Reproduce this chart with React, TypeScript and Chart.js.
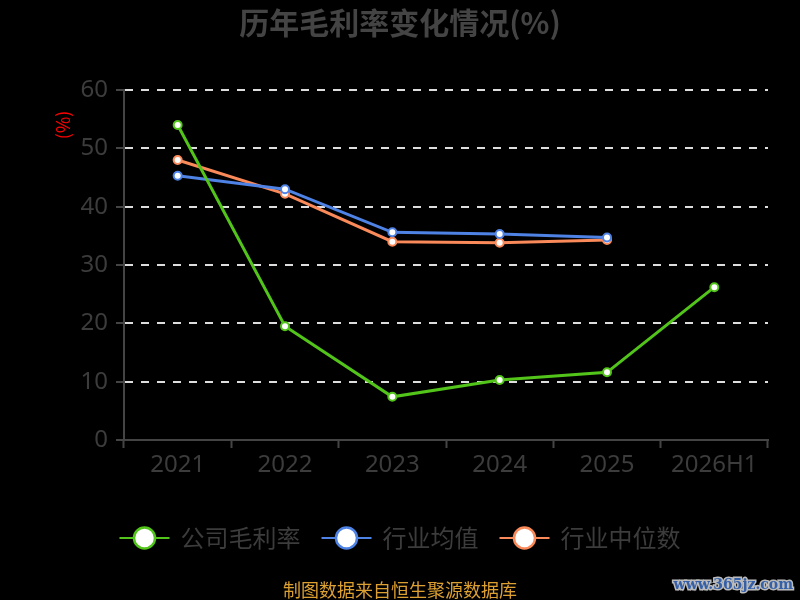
import { useEffect, useRef } from "react";
import { Chart, registerables } from "chart.js";

Chart.register(...registerables);

const categories = ["2021", "2022", "2023", "2024", "2025", "2026H1"];
const companyMargin = [54.0, 19.5, 7.4, 10.3, 11.6, 26.2];
const industryAvg = [45.3, 43.0, 35.6, 35.3, 34.7, null];
const industryMedian = [48.0, 42.2, 34.0, 33.8, 34.3, null];
const seriesNames = ["公司毛利率", "行业均值", "行业中位数"];
const seriesColors = ["#52c41a", "#4e82e4", "#fa8a5a"];
const yTicks = [0, 10, 20, 30, 40, 50, 60];

const TITLE = "历年毛利率变化情况(%)";
const UNIT = "(%)";
const FOOTER = "制图数据来自恒生聚源数据库";
const WATERMARK = "www.365jz.com";

const FONT = '"Noto Sans", "Noto Sans CJK SC", sans-serif';
const CJK = '"Noto Sans CJK SC", "Noto Sans", sans-serif';

// title, unit label, custom legend, footer and watermark
const decorations = {
  id: "decorations",
  afterDraw(chart: Chart) {
    const ctx = chart.ctx;
    ctx.save();

    ctx.fillStyle = "#444";
    ctx.font = `bold 30px ${CJK}`;
    ctx.textAlign = "center";
    ctx.textBaseline = "middle";
    ctx.fillText(TITLE, 400, 23);

    ctx.save();
    ctx.translate(63, 125);
    ctx.rotate(-Math.PI / 2);
    ctx.fillStyle = "#ff0000";
    ctx.font = `18px ${CJK}`;
    ctx.fillText(UNIT, 0, 0);
    ctx.restore();

    // legend: line + hollow circle + label
    ctx.font = `24px ${CJK}`;
    const lineW = 50;
    const gapText = 11;
    const gapItem = 21;
    const widths = seriesNames.map((n) => ctx.measureText(n).width);
    const total =
      widths.reduce((a, w) => a + lineW + gapText + w, 0) + gapItem * (seriesNames.length - 1);
    let x = 400 - total / 2;
    const ly = 538;
    seriesNames.forEach((name, i) => {
      ctx.strokeStyle = seriesColors[i];
      ctx.lineWidth = 2;
      ctx.beginPath();
      ctx.moveTo(x, ly);
      ctx.lineTo(x + lineW, ly);
      ctx.stroke();
      ctx.beginPath();
      ctx.arc(x + lineW / 2, ly, 10.5, 0, Math.PI * 2);
      ctx.fillStyle = "#fff";
      ctx.fill();
      ctx.lineWidth = 2.5;
      ctx.stroke();
      ctx.fillStyle = "#3c3c3c";
      ctx.textAlign = "left";
      ctx.fillText(name, x + lineW + gapText, ly);
      x += lineW + gapText + widths[i] + gapItem;
    });

    ctx.textAlign = "center";
    ctx.font = `18px ${CJK}`;
    ctx.fillStyle = "#dca032";
    ctx.fillText(FOOTER, 400, 590);

    ctx.textAlign = "right";
    ctx.font = 'bold 14px "DejaVu Serif", serif';
    ctx.lineWidth = 3;
    ctx.strokeStyle = "#bbb";
    ctx.strokeText(WATERMARK, 793, 585);
    ctx.fillStyle = "#3560a8";
    ctx.fillText(WATERMARK, 793, 585);

    ctx.restore();
  },
};

export default function App() {
  const canvasRef = useRef<HTMLCanvasElement | null>(null);

  useEffect(() => {
    const canvas = canvasRef.current;
    if (!canvas) return;

    const makeSet = (i: number, data: (number | null)[]) => ({
      label: seriesNames[i],
      data,
      borderColor: seriesColors[i],
      backgroundColor: "#fff",
      pointBackgroundColor: "#fff",
      pointBorderColor: seriesColors[i],
      pointBorderWidth: 2,
      pointRadius: 4,
      borderWidth: 3,
      tension: 0,
      spanGaps: false,
    });

    const chart = new Chart(canvas, {
      type: "line",
      data: {
        labels: categories,
        datasets: [
          makeSet(0, companyMargin),
          makeSet(1, industryAvg),
          makeSet(2, industryMedian),
        ],
      },
      options: {
        animation: false,
        responsive: false,
        maintainAspectRatio: false,
        layout: { padding: { top: 90, left: 0, right: 32, bottom: 100 } },
        plugins: {
          legend: { display: false },
          title: { display: false },
          tooltip: { enabled: false },
        },
        scales: {
          x: {
            offset: true,
            afterFit: (s: any) => {
              s.height = 60;
            },
            grid: {
              drawOnChartArea: false,
              tickColor: "#444",
              tickLength: 8,
              tickWidth: 2,
              offset: true,
            },
            border: { color: "#444", width: 2 },
            ticks: { color: "#3c3c3c", font: { size: 24, family: FONT }, padding: 3 },
          },
          y: {
            min: 0,
            max: 60,
            afterFit: (s: any) => {
              s.width = 124;
            },
            afterBuildTicks: (s: any) => {
              s.ticks = yTicks.map((v) => ({ value: v }));
            },
            grid: {
              color: (c: any) => (c.tick && c.tick.value === 0 ? "rgba(0,0,0,0)" : "#ddd"),
              lineWidth: 2,
              tickColor: "#444",
              tickLength: 8,
              tickWidth: 2,
              tickBorderDash: [],
            },
            border: { color: "#444", width: 2, dash: [8, 8] },
            ticks: { color: "#3c3c3c", font: { size: 24, family: FONT }, padding: 8 },
          },
        },
      },
      plugins: [decorations],
    });

    return () => chart.destroy();
  }, []);

  return (
    <div
      style={{
        position: "fixed",
        left: 0,
        top: 0,
        width: 800,
        height: 600,
        background: "#000",
      }}
    >
      <canvas ref={canvasRef} width={800} height={600} style={{ width: 800, height: 600 }} />
    </div>
  );
}
